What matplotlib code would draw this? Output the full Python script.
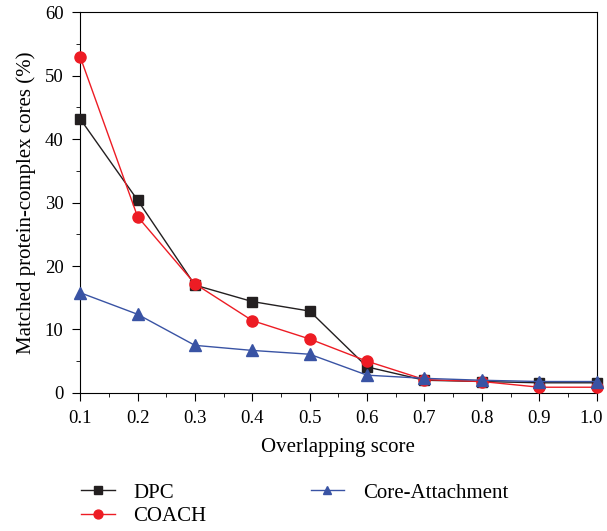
import matplotlib
matplotlib.use("Agg")
import matplotlib.pyplot as plt
from matplotlib.ticker import MultipleLocator
from matplotlib.transforms import ScaledTranslation

# Data
overlap = [0.1, 0.2, 0.3, 0.4, 0.5, 0.6, 0.7, 0.8, 0.9, 1.0]
dpc = [43.2, 30.4, 17.0, 14.4, 12.9, 4.1, 2.0, 1.8, 1.6, 1.6]
coach = [53.0, 27.8, 17.2, 11.4, 8.5, 5.0, 2.1, 1.8, 0.9, 0.9]
core_attach = [15.8, 12.4, 7.5, 6.7, 6.1, 2.8, 2.3, 2.0, 1.8, 1.8]

plt.rcParams["font.family"] = ["Liberation Serif", "DejaVu Serif"]

fig = plt.figure(figsize=(6.07, 5.31), dpi=100)
ax = fig.add_axes([0.132, 0.26, 0.851, 0.717])

ax.plot(overlap, dpc, color="#231f20", marker="s", markersize=7, linewidth=1,
        label="DPC", clip_on=False, zorder=3)
ax.plot(overlap, coach, color="#ed1c24", marker="o", markersize=8, linewidth=1,
        label="COACH", clip_on=False, zorder=4)
ax.plot(overlap, core_attach, color="#3953a4", marker="^", markersize=8, linewidth=1,
        label="Core-Attachment", clip_on=False, zorder=5)

ax.set_xlim(0.1, 1.0)
ax.set_ylim(0, 60)
ax.xaxis.set_major_locator(MultipleLocator(0.1))
ax.xaxis.set_minor_locator(MultipleLocator(0.05))
ax.yaxis.set_major_locator(MultipleLocator(10))
ax.yaxis.set_minor_locator(MultipleLocator(5))
ax.tick_params(which="both", direction="out", top=False, right=False, labelsize=13.5)
ax.tick_params(which="major", length=6, pad=6)
ax.tick_params(which="minor", length=3)
ax.set_xticks(overlap)
ax.set_xticklabels([f"{v:.1f}" for v in overlap])
# nudge the last tick label left so it stays inside the canvas
last = ax.get_xticklabels()[-1]
last.set_transform(last.get_transform() + ScaledTranslation(-4 / 72, 0, fig.dpi_scale_trans))

ax.set_xlabel("Overlapping score", fontsize=15, labelpad=8)
ax.set_ylabel("Matched protein-complex cores (%)", fontsize=15, labelpad=6)

ax.legend(loc="upper left", bbox_to_anchor=(0.11, 0.118), bbox_transform=fig.transFigure,
          ncol=2, frameon=False, fontsize=15, handlelength=1.6, columnspacing=5.0,
          labelspacing=0.2, markerscale=0.8, borderpad=0.2, handletextpad=0.9)

fig.savefig("out.png", dpi=100)
